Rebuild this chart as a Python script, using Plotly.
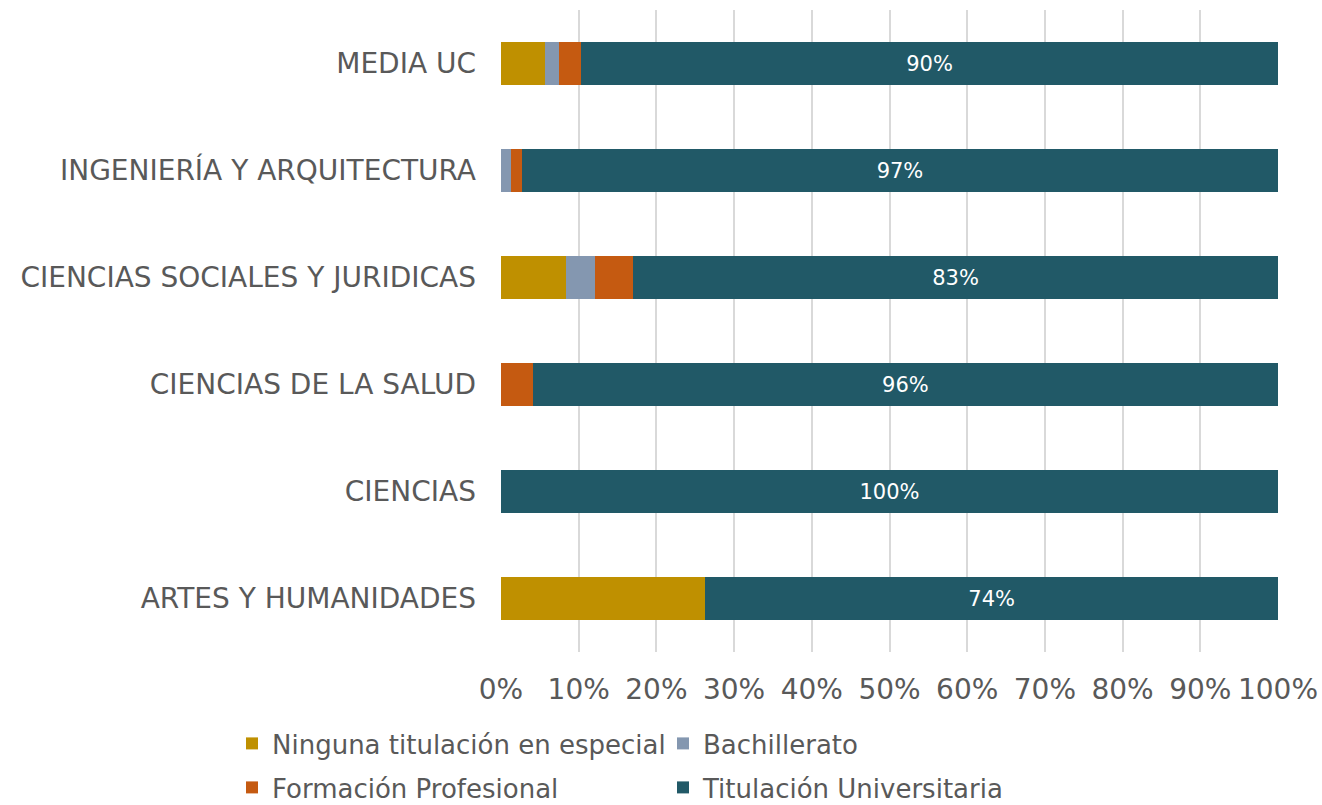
import plotly.graph_objects as go

# Áreas de conocimiento (de arriba a abajo)
areas = [
    "MEDIA UC",
    "INGENIERÍA Y ARQUITECTURA",
    "CIENCIAS SOCIALES Y JURIDICAS",
    "CIENCIAS DE LA SALUD",
    "CIENCIAS",
    "ARTES Y HUMANIDADES",
]

# Porcentaje por nivel de titulación
ninguna = [5.6, 0.0, 8.4, 0.0, 0.0, 26.3]
bachillerato = [1.9, 1.3, 3.7, 0.0, 0.0, 0.0]
formacion_prof = [2.8, 1.4, 4.9, 4.1, 0.0, 0.0]
universitaria = [89.7, 97.3, 83.0, 95.9, 100.0, 73.7]

x_ticks = [0, 10, 20, 30, 40, 50, 60, 70, 80, 90, 100]

# (nombre, valores, color, etiqueta de datos, leyenda en la que aparece)
series = [
    ("Ninguna titulación en especial", ninguna, "#BF9000", False, "legend"),
    ("Bachillerato", bachillerato, "#8497B0", False, "legend"),
    ("Formación Profesional", formacion_prof, "#C55A11", False, "legend2"),
    ("Titulación Universitaria", universitaria, "#215967", True, "legend2"),
]

FONT = "DejaVu Sans"
GREY = "#595959"

fig = go.Figure()
for name, vals, color, labelled, leg in series:
    fig.add_trace(go.Bar(
        y=areas,
        x=vals,
        name=name,
        orientation="h",
        legend=leg,
        marker=dict(color=color, line=dict(width=0)),
        text=[f"{v:.0f}%" for v in vals] if labelled else None,
        textposition="inside" if labelled else "none",
        insidetextanchor="middle",
        textfont=dict(family=FONT, size=21, color="white"),
        width=0.4,
        hoverinfo="x+y+name",
    ))

# Plot area spans 10..652 px vertically and 501..1278 px horizontally
PLOT_TOP, PLOT_BOTTOM, PLOT_LEFT, PLOT_W = 10, 652, 501, 777
plot_h = PLOT_BOTTOM - PLOT_TOP


def legend_row(top_px):
    return dict(
        orientation="h",
        x=(232 - PLOT_LEFT) / PLOT_W,
        y=-(top_px - PLOT_BOTTOM) / plot_h,
        xanchor="left",
        yanchor="top",
        font=dict(family=FONT, size=26, color=GREY),
        entrywidth=386,
        entrywidthmode="pixels",
        itemwidth=30,
        traceorder="normal",
        bgcolor="rgba(0,0,0,0)",
    )


fig.update_layout(
    barmode="stack",
    width=1322,
    height=805,
    margin=dict(l=PLOT_LEFT, r=44, t=PLOT_TOP, b=805 - PLOT_BOTTOM, autoexpand=False),
    plot_bgcolor="white",
    paper_bgcolor="white",
    font=dict(family=FONT, color=GREY),
    legend=legend_row(720),
    legend2=legend_row(764),
    bargap=0.6,
)

fig.update_xaxes(
    range=[0, 100],
    tickvals=x_ticks,
    ticktext=[f"{t}%" for t in x_ticks],
    showgrid=True,
    gridcolor="#D9D9D9",
    gridwidth=1.5,
    zeroline=False,
    showline=False,
    ticks="",
    tickfont=dict(family=FONT, size=28, color=GREY),
    ticklabelstandoff=18,
    fixedrange=True,
)

fig.update_yaxes(
    autorange="reversed",
    showgrid=False,
    zeroline=False,
    showline=False,
    ticks="",
    tickfont=dict(family=FONT, size=28, color=GREY),
    ticklabelstandoff=24,
    fixedrange=True,
)

fig.write_html("out.html")
